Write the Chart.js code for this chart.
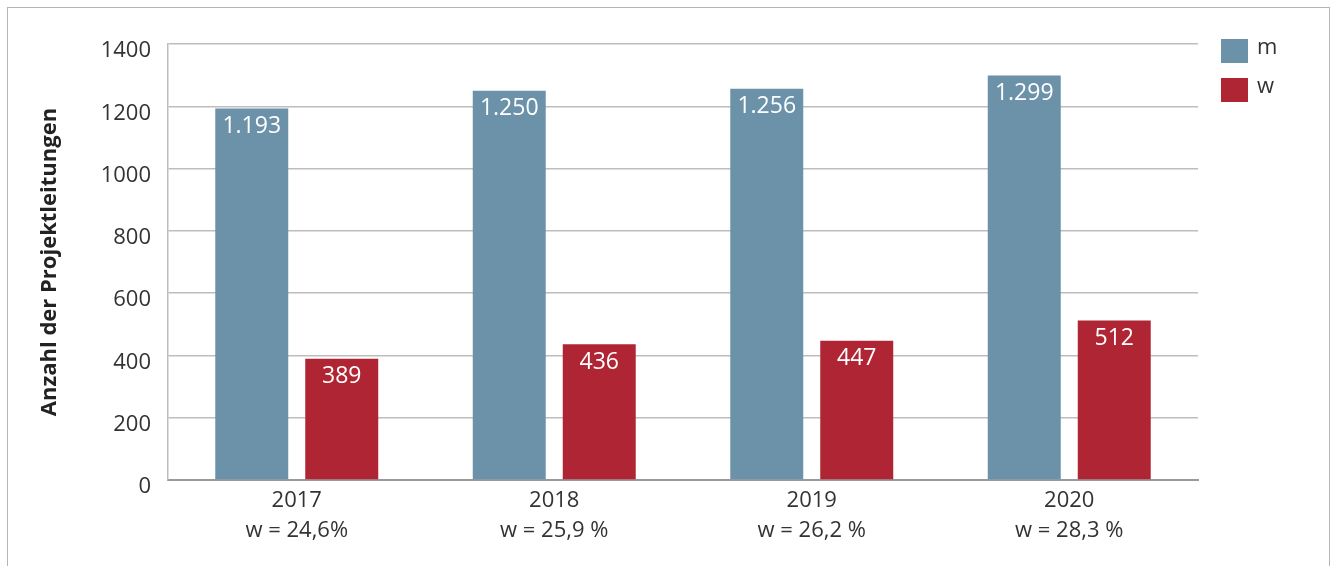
<!DOCTYPE html>
<html>
<head>
<meta charset="utf-8">
<script src="https://cdn.jsdelivr.net/npm/chart.js@4/dist/chart.umd.min.js"></script>
<style>
  html, body { margin: 0; padding: 0; background: #fff; }
  #frame { position: absolute; left: 7px; top: 7px; width: 1323px; height: 600px;
           border: 1.5px solid #b5b5b5; box-sizing: border-box; }
  #wrap { position: absolute; left: 0; top: 0; width: 1336px; height: 566px; }
</style>
</head>
<body>
<div id="frame"></div>
<div id="wrap"><canvas id="c" width="1336" height="566"></canvas></div>
<script>
const categories = [["2017", "w = 24,6%"], ["2018", "w = 25,9 %"], ["2019", "w = 26,2 %"], ["2020", "w = 28,3 %"]];
const seriesNames = ["m", "w"];
const valuesM = [1193, 1250, 1256, 1299];
const valuesW = [389, 436, 447, 512];
const yTicks = [0, 200, 400, 600, 800, 1000, 1200, 1400];
const yTitle = "Anzahl der Projektleitungen";

const COLORS = ["#6b92a8", "#b02534"];
const FONT = "'Open Sans', 'Noto Sans', sans-serif";

function fmtDE(v) {
  return String(v).replace(/\B(?=(\d{3})+(?!\d))/g, ".");
}

const valueLabels = {
  id: "valueLabels",
  afterDatasetsDraw(chart) {
    const ctx = chart.ctx;
    ctx.save();
    ctx.fillStyle = "#ffffff";
    ctx.font = "23px " + FONT;
    ctx.textAlign = "center";
    ctx.textBaseline = "middle";
    chart.data.datasets.forEach((ds, i) => {
      const meta = chart.getDatasetMeta(i);
      meta.data.forEach((bar, j) => {
        ctx.fillText(fmtDE(ds.data[j]), bar.x, bar.y + 18);
      });
    });
    ctx.restore();
  }
};

const sideLegend = {
  id: "sideLegend",
  afterDraw(chart) {
    const ctx = chart.ctx;
    const a = chart.chartArea;
    ctx.save();
    ctx.font = "22px " + FONT;
    ctx.textBaseline = "middle";
    ctx.textAlign = "left";
    chart.data.datasets.forEach((ds, i) => {
      const x = a.right + 23;
      const y = a.top - 5 + i * 39;
      ctx.fillStyle = ds.backgroundColor;
      ctx.fillRect(x, y, 27, 24);
      ctx.fillStyle = "#333333";
      ctx.fillText(ds.label, x + 36, y + 9);
    });
    ctx.restore();
  }
};

new Chart(document.getElementById("c"), {
  type: "bar",
  data: {
    labels: categories,
    datasets: [
      { label: seriesNames[0], data: valuesM, backgroundColor: COLORS[0] },
      { label: seriesNames[1], data: valuesW, backgroundColor: COLORS[1] }
    ]
  },
  options: {
    responsive: false,
    animation: false,
    devicePixelRatio: 1,
    layout: { padding: { left: 0, top: 44, right: 138, bottom: 0 } },
    categoryPercentage: 0.699,
    barPercentage: 0.811,
    plugins: { legend: { display: false }, tooltip: { enabled: false } },
    scales: {
      x: {
        grid: { display: false, drawTicks: false },
        border: { color: "#9a9a9a", width: 2 },
        ticks: { color: "#333333", padding: 5, font: { family: FONT, size: 22, lineHeight: 1.4 }, maxRotation: 0 },
        afterFit(s) { s.height = 86; }
      },
      y: {
        min: 0, max: 1400,
        afterBuildTicks(s) { s.ticks = yTicks.map(v => ({ value: v })); },
        grid: { color: "#bdbdbd", lineWidth: 1.5, drawTicks: false },
        border: { color: "#bdbdbd", width: 1.5 },
        ticks: { color: "#333333", padding: 17, labelOffset: 7, font: { family: FONT, size: 22 },
                 callback: (v) => String(v) },
        title: { display: true, text: yTitle, color: "#222222", padding: { top: 37, bottom: 0 },
                 font: { family: FONT, size: 22, weight: "bold" } },
        afterFit(s) { s.width = 168; }
      }
    }
  },
  plugins: [valueLabels, sideLegend]
});
</script>
</body>
</html>
